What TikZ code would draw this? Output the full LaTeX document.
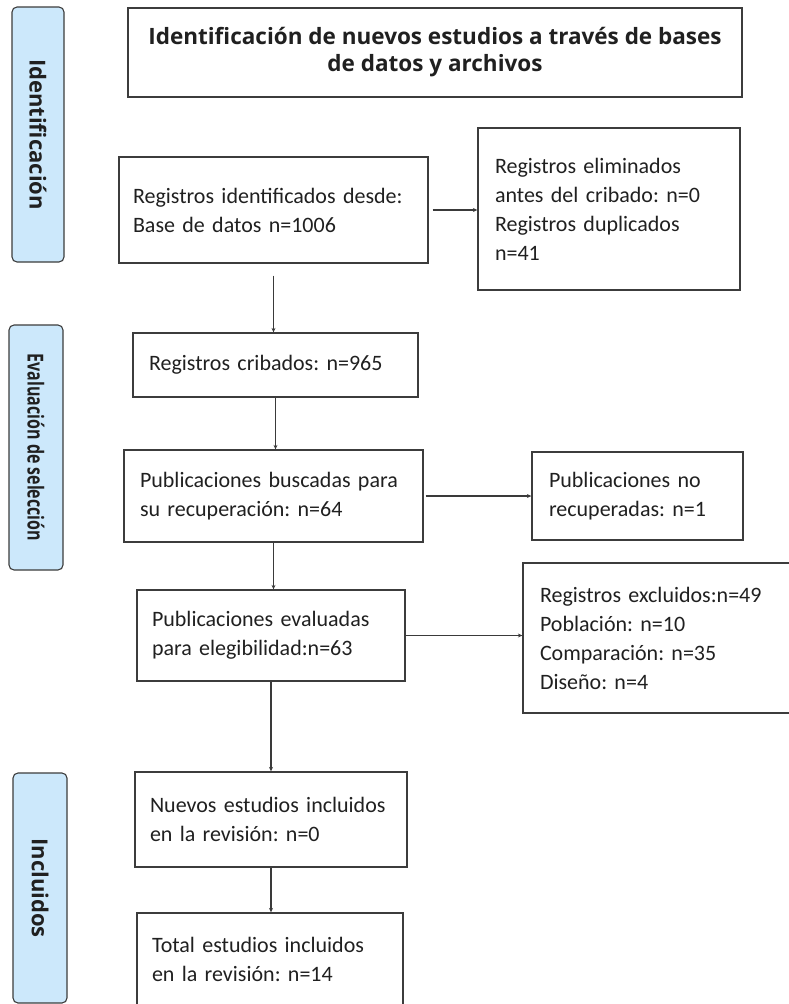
\documentclass[tikz,border=0pt]{standalone}
\usepackage{fontspec}
\setmainfont{Carlito}
\newfontfamily\headfont{Open Sans}
\usetikzlibrary{arrows.meta}
\definecolor{sidefill}{HTML}{CCE8FB}
\definecolor{boxline}{HTML}{3C3C3C}
\definecolor{connline}{HTML}{3A3A3A}
\definecolor{txt}{HTML}{202020}
\frenchspacing
\tikzset{
  pbox/.style={draw=boxline, line width=1.3pt, text=txt, align=left, inner ysep=0pt,
    font=\fontsize{22}{29}\selectfont},
  sidebox/.style={draw=boxline, line width=1.1pt, fill=sidefill, rounded corners=5pt,
    inner sep=0pt, text=txt, font=\headfont\bfseries\fontsize{22}{24}\selectfont},
  conn/.style={draw=connline, line width=1.3pt, -{Stealth[length=4.5pt,width=4pt]}},
}
\newcommand{\pboxat}[7]{% name, cx, cy, w, h, pad, text
  \node[pbox, minimum width=#4pt, minimum height=#5pt, inner xsep=#6pt,
    text width=#4pt-2*#6pt] (#1) at (#2,#3) {\frenchspacing #7};}
\begin{document}
\begin{tikzpicture}[x=1pt,y=-1pt]
\useasboundingbox (0,0) rectangle (789,1004);
% side labels
\node[sidebox, minimum width=52pt, minimum height=255pt] (sid1) at (38,134.5)
  {\rotatebox{-90}{Identificación}};
\node[sidebox, minimum width=54pt, minimum height=245pt] (sid2) at (36,447.5)
  {\rotatebox{-90}{\scalebox{0.725}[1]{Evaluación de selección}}};
\node[sidebox, minimum width=54pt, minimum height=230pt] (sid3) at (40,888)
  {\rotatebox{-90}{Incluidos}};
% title
\node[draw=boxline, line width=1.3pt, minimum width=614pt, minimum height=89pt,
  align=center, text=txt, font=\headfont\bfseries\fontsize{22.5}{27}\selectfont]
  (title) at (435,52.5) {Identificación de nuevos estudios a través de bases\\de datos y archivos};
% main boxes
\pboxat{ident}{273.5}{210}{309}{106}{14}{Registros identificados desde:\\Base de datos n=1006}
\pboxat{elim}{609}{209}{262}{162}{17}{Registros eliminados\\antes del cribado: n=0\\Registros duplicados\\n=41}
\pboxat{crib}{275.5}{365}{285}{64}{16}{Registros cribados: n=965}
\pboxat{busc}{273.5}{496}{299}{92}{16}{Publicaciones buscadas para\\su recuperación: n=64}
\pboxat{norec}{637.5}{496}{211}{88}{17}{Publicaciones no\\recuperadas: n=1}
\pboxat{eval}{271}{635.5}{268}{91}{15}{Publicaciones evaluadas\\para elegibilidad:n=63}
\pboxat{excl}{661.5}{638}{277}{150}{17}{Registros excluidos:n=49\\Población: n=10\\Comparación: n=35\\Diseño: n=4}
\pboxat{nuevos}{271}{819.5}{272}{95}{15}{Nuevos estudios incluidos\\en la revisión: n=0}
\pboxat{total}{270}{959}{266}{92}{15}{Total estudios incluidos\\en la revisión: n=14}
% connectors
\draw[conn, shorten <=12pt] (ident.south) -- (ident.south |- crib.north);
\draw[conn] (crib.south) -- (crib.south |- busc.north);
\draw[conn] (busc.south) -- (busc.south |- eval.north);
\draw[conn] (eval.south) -- (eval.south |- nuevos.north);
\draw[conn] (nuevos.south) -- (nuevos.south |- total.north);
\draw[conn, shorten <=4pt] (ident.east) -- (ident.east -| elim.west);
\draw[conn, shorten <=2pt] (busc.east) -- (busc.east -| norec.west);
\draw[conn] (eval.east) -- (eval.east -| excl.west);
\end{tikzpicture}
\end{document}
